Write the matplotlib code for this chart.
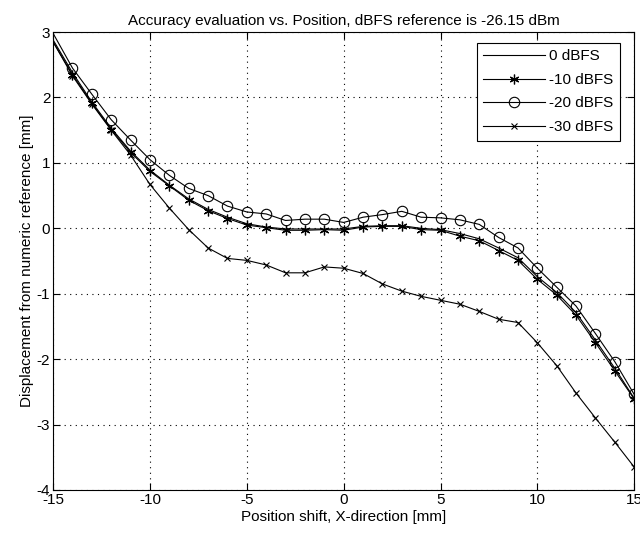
import numpy as np
import matplotlib
matplotlib.use("Agg")
import matplotlib.pyplot as plt

plt.rcParams['font.family'] = ['Liberation Sans', 'DejaVu Sans']
plt.rcParams['axes.unicode_minus'] = False

# position shift along X [mm]
pos = list(range(-15, 16))

# displacement from numeric reference [mm], one list per input level
disp_0 = [2.88, 2.38, 1.93, 1.53, 1.18, 0.89, 0.66, 0.45, 0.29, 0.17, 0.07,
          0.02, -0.01, -0.01, -0.01, -0.01, 0.03, 0.04, 0.04, 0.00, -0.02,
          -0.08, -0.16, -0.30, -0.45, -0.74, -0.98, -1.29, -1.71, -2.14, -2.60]
disp_10 = [2.85, 2.35, 1.91, 1.51, 1.16, 0.87, 0.65, 0.43, 0.27, 0.15, 0.05,
           0.01, -0.03, -0.03, -0.02, -0.03, 0.02, 0.03, 0.03, -0.02, -0.03,
           -0.12, -0.19, -0.34, -0.49, -0.78, -1.02, -1.33, -1.75, -2.18, -2.61]
disp_20 = [2.98, 2.45, 2.05, 1.66, 1.35, 1.05, 0.81, 0.61, 0.50, 0.34, 0.25,
           0.22, 0.12, 0.14, 0.14, 0.09, 0.17, 0.21, 0.26, 0.17, 0.16,
           0.13, 0.06, -0.14, -0.30, -0.61, -0.90, -1.19, -1.61, -2.04, -2.54]
disp_30 = [2.85, 2.33, 1.90, 1.50, 1.12, 0.67, 0.31, -0.02, -0.30, -0.46, -0.49,
           -0.56, -0.68, -0.68, -0.59, -0.61, -0.69, -0.85, -0.96, -1.04, -1.10,
           -1.16, -1.27, -1.39, -1.44, -1.75, -2.10, -2.52, -2.90, -3.27, -3.65]
labels = ['0 dBFS', '-10 dBFS', '-20 dBFS', '-30 dBFS']

fig = plt.figure(figsize=(6.4, 5.4), dpi=100)
ax = fig.add_axes([0.083, 0.0926, 0.908, 0.848])

lw = 0.8
marks = slice(1, None)  # first sample sits on the frame corner
ax.plot(pos, disp_0, color='k', lw=lw, label=labels[0])
ax.plot(pos, disp_10, color='k', lw=lw, marker=(6, 2, 0), ms=7, mew=0.9,
        markevery=marks, label=labels[1])
ax.plot(pos, disp_20, color='k', lw=lw, marker='o', ms=7.5, mfc='none',
        mew=0.8, markevery=marks, label=labels[2])
ax.plot(pos, disp_30, color='k', lw=lw, marker='x', ms=4.5, mew=0.8,
        markevery=marks, label=labels[3])

ax.set_xlim(-15, 15)
ax.set_ylim(-4, 3)
ax.set_xticks(np.arange(-15, 16, 5))
ax.set_yticks(np.arange(-4, 4, 1))
ax.grid(True, color='k', linestyle=(0, (1, 4)), linewidth=0.8)
ax.tick_params(direction='in', top=True, right=True, length=5, width=0.8,
               labelsize=11, pad=2)
for s in ax.spines.values():
    s.set_linewidth(0.8)

ax.set_title('Accuracy evaluation vs. Position, dBFS reference is -26.15 dBm',
             fontsize=11, pad=5)
ax.set_xlabel('Position shift, X-direction [mm]', fontsize=11, labelpad=2)
ax.set_ylabel('Displacement from numeric reference [mm]', fontsize=11,
              labelpad=2)

leg = ax.legend(loc='upper right', bbox_to_anchor=(0.976, 0.977),
                borderaxespad=0, fancybox=False, edgecolor='k', framealpha=1,
                fontsize=11, handlelength=4.0, borderpad=0.45,
                labelspacing=0.62, handletextpad=0.3)
leg.get_frame().set_linewidth(0.8)

fig.savefig('out.png', dpi=100)
